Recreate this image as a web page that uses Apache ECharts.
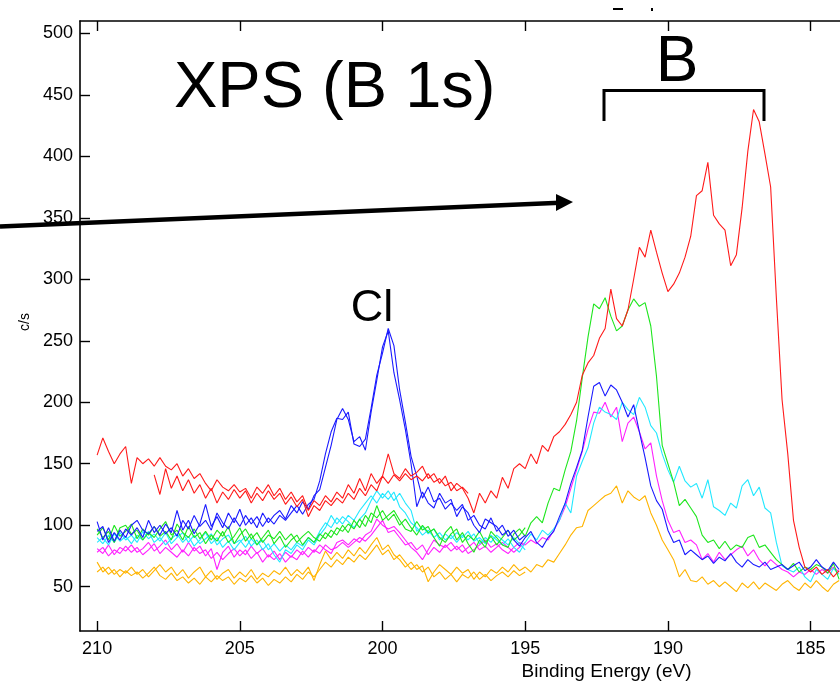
<!DOCTYPE html>
<html>
<head>
<meta charset="utf-8">
<script src="https://cdn.jsdelivr.net/npm/echarts@6/dist/echarts.min.js"></script>
<style>
html,body{margin:0;padding:0;background:#fff;}
#chart{width:840px;height:684px;}
</style>
</head>
<body>
<div id="chart"></div>
<script>
// ---------- DATA ----------
const xTicks = [210, 205, 200, 195, 190, 185];
const yTicks = [50, 100, 150, 200, 250, 300, 350, 400, 450, 500];

const energy = [
  210.0,209.8,209.6,209.4,209.2,209.0,208.8,208.6,208.4,208.2,
  208.0,207.8,207.6,207.4,207.2,207.0,206.8,206.6,206.4,206.2,
  206.0,205.8,205.6,205.4,205.2,205.0,204.8,204.6,204.4,204.2,
  204.0,203.8,203.6,203.4,203.2,203.0,202.8,202.6,202.4,202.2,
  202.0,201.8,201.6,201.4,201.2,201.0,200.8,200.6,200.4,200.2,
  200.0,199.8,199.6,199.4,199.2,199.0,198.8,198.6,198.4,198.2,
  198.0,197.8,197.6,197.4,197.2,197.0,196.8,196.6,196.4,196.2,
  196.0,195.8,195.6,195.4,195.2,195.0,194.8,194.6,194.4,194.2,
  194.0,193.8,193.6,193.4,193.2,193.0,192.8,192.6,192.4,192.2,
  192.0,191.8,191.6,191.4,191.2,191.0,190.8,190.6,190.4,190.2,
  190.0,189.8,189.6,189.4,189.2,189.0,188.8,188.6,188.4,188.2,
  188.0,187.8,187.6,187.4,187.2,187.0,186.8,186.6,186.4,186.2,
  186.0,185.8,185.6,185.4,185.2,185.0,184.8,184.6,184.4,184.2,
  184.0
];

const red = [
  157,171,160,150,158,164,134,155,150,154,
  148,155,148,145,150,140,146,138,142,134,
  128,137,131,128,133,127,130,122,131,126,
  133,124,130,121,127,119,124,112,120,116,
  124,119,127,122,133,126,138,128,142,134,
  140,158,142,138,146,140,143,148,138,142,
  134,140,128,134,130,122,110,126,118,128,
  122,139,130,146,150,146,158,150,165,160,
  172,176,182,190,200,222,232,238,252,260,
  292,268,262,275,300,326,318,340,322,305,
  290,296,305,318,335,368,372,395,352,345,
  340,311,320,358,404,438,428,402,375,285,
  202,158,104,82,66,62,66,60,64,58,
  63
];
const blue = [
  103,88,98,87,96,90,100,104,96,93,
  99,92,101,94,112,96,104,93,101,117,
  99,107,98,110,102,113,100,106,98,110,
  102,108,112,105,116,110,119,113,124,129,
  147,165,186,195,186,168,172,161,192,218,
  245,258,224,202,178,150,115,127,118,114,
  126,118,121,107,115,110,100,94,105,102,
  99,92,96,88,83,90,95,86,82,90,
  95,107,118,134,147,161,188,213,216,205,
  214,210,200,188,198,176,155,132,120,113,
  96,86,88,76,80,76,72,75,69,74,
  71,77,70,66,72,68,66,70,64,66,
  68,64,67,70,63,66,72,66,63,70,
  64
];
const green = [
  97,90,95,86,98,100,93,96,88,94,
  90,97,103,92,96,88,99,90,94,85,
  92,87,95,86,91,98,87,93,84,90,
  96,85,91,82,88,92,84,90,86,93,
  89,96,92,100,94,104,98,108,102,116,
  104,108,112,104,97,95,103,96,99,90,
  83,94,99,88,94,85,78,88,82,95,
  90,84,82,93,97,91,102,107,102,118,
  130,128,145,160,185,220,253,280,276,285,
  270,258,262,275,284,278,281,262,221,165,
  150,135,116,121,114,107,92,86,88,81,
  87,80,84,82,90,92,82,84,78,72,
  68,64,69,62,66,64,68,66,61,69,
  56
];
const cyan = [
  86,90,84,93,87,91,85,92,88,95,
  86,90,84,89,93,86,91,83,88,94,
  85,90,82,87,80,86,91,83,88,80,
  85,76,70,80,77,84,80,88,84,92,
  98,108,101,107,103,98,105,110,120,128,
  122,128,120,126,118,112,95,99,93,97,
  88,93,89,94,90,95,87,90,85,92,
  88,84,89,82,78,86,93,88,96,92,
  97,104,118,110,140,152,163,183,196,192,
  190,186,200,194,190,204,196,181,175,158,
  145,135,148,136,131,134,122,137,115,112,
  108,118,114,132,137,124,131,114,110,86,
  67,64,62,66,58,54,64,60,56,65,
  60
];
const magenta = [
  81,77,84,76,82,79,84,78,81,86,
  79,83,88,80,85,78,86,79,83,75,
  81,64,78,83,74,80,76,83,77,81,
  74,79,72,78,74,80,76,82,78,84,
  80,77,86,88,84,89,86,92,95,105,
  100,97,99,94,88,82,78,72,80,88,
  84,82,86,80,84,77,80,84,88,82,
  85,80,77,82,86,84,88,85,90,88,
  96,104,115,130,145,160,178,192,191,200,
  188,196,168,183,188,176,162,167,140,120,
  104,94,96,86,88,84,72,77,70,78,
  72,76,80,83,75,80,72,67,72,68,
  64,62,58,62,60,64,60,64,61,66,
  62
];
const yellow = [
  70,62,66,60,64,61,66,60,64,58,
  63,68,62,66,59,64,57,62,66,58,
  63,56,61,64,57,62,58,64,56,61,
  58,63,60,66,59,64,60,66,55,68,
  79,72,78,73,80,75,82,77,84,90,
  80,84,76,72,66,70,64,67,54,62,
  68,64,60,66,61,64,56,62,58,64,
  61,66,62,68,63,66,62,68,66,72,
  70,77,84,92,98,99,112,116,120,124,
  126,132,118,128,123,120,124,110,100,88,
  80,72,58,64,55,54,58,52,55,50,
  54,50,46,53,49,54,48,53,50,47,
  52,55,50,47,53,49,55,50,46,52,
  55
];

// second scans (partial ranges)
const red2Start = 208.0;
const red2 = [
  141,125,146,130,140,128,137,126,133,122,
  130,118,127,121,129,122,128,118,126,120,
  128,121,126,117,123,115,121,107,116,112,
  120,116,122,118,126,121,130,124,133,128,
  140,134,141,136,142,137,140,136,142,135,
  138,132,135,128,131,126
];
const scan2Start = 210.0;
const blue2 = [
  95,99,86,94,88,97,92,98,90,104,
  94,100,93,98,91,104,97,108,99,104,
  96,110,102,97,106,99,108,101,107,99,
  106,101,108,104,110,116,109,117,121,136,
  158,176,187,186,192,166,164,170,195,222,
  240,260,246,210,184,156,140,122,131,119,
  122,113,118,112,117,104,108,100,97,106,
  95,100,91,96,88,92
];
const green2 = [
  92,98,88,100,91,95,101,89,97,92,
  99,91,95,88,101,94,90,97,89,95,
  88,96,91,99,85,92,97,89,94,86,
  92,89,95,88,93,86,91,95,90,87,
  94,90,98,95,101,97,105,99,110,106,
  112,104,109,100,105,98,92,100,94,97,
  90,86,93,97,86,92,88,95,86,91,
  84,90,96,88,92,98
];
const cyan2 = [
  90,85,92,86,94,88,92,86,95,89,
  93,87,94,85,90,94,86,92,85,89,
  93,84,89,92,85,88,82,89,84,88,
  80,85,79,84,80,86,83,90,86,95,
  102,98,106,101,108,104,112,118,124,118,
  126,121,127,115,110,102,98,92,96,90,
  94,88,92,86,92,88,93,85,90,86,
  92,88,84,90,85,80
];
const magenta2 = [
  78,82,75,80,77,83,78,82,76,80,
  85,77,82,78,74,80,75,82,77,80,
  73,78,72,77,81,75,80,73,78,70,
  76,72,77,70,75,72,79,74,80,77,
  84,80,82,86,82,86,90,87,92,98,
  104,94,96,90,84,86,80,84,76,82,
  78,84,79,83,78,82,86,80,83,78,
  82,86,82,78,82,86
];
const yellow2 = [
  62,66,60,64,58,63,59,62,57,61,
  66,59,56,61,55,58,53,57,52,58,
  54,59,55,58,52,57,54,59,53,57,
  51,56,53,58,54,60,56,62,58,64,
  70,66,72,68,74,70,76,72,78,84,
  76,80,72,76,70,64,68,62,66,58,
  62,56,60,54,60,57,62,56,60,55,
  59,62,58,63,59,62
];

// ---------- CHART ----------
function pairs(values, start) {
  const off = energy.indexOf(start);
  return values.map((v, i) => [energy[off + i], v]);
}
const FONT = '"Liberation Sans", Arial, sans-serif';
const COLORS = {
  red: '#ff1a1a', blue: '#1a1aff', green: '#1ee61e',
  cyan: '#22e8ff', magenta: '#ff22ff', yellow: '#ffb400'
};
function line(name, values, start, color) {
  return {
    name: name, type: 'line', data: pairs(values, start),
    symbol: 'none', showSymbol: false, silent: true,
    lineStyle: { width: 1.1, color: color }, itemStyle: { color: color },
    animation: false
  };
}

const chart = echarts.init(document.getElementById('chart'), null, { renderer: 'canvas' });

const axisCommon = {
  type: 'value', inverse: true, min: 183.97, max: 210.6,
  axisLine: { show: true, onZero: false, lineStyle: { color: '#000', width: 1.6 } },
  axisTick: { show: true, inside: true, length: 10, customValues: xTicks, lineStyle: { color: '#000', width: 1.4 } },
  splitLine: { show: false }
};

chart.setOption({
  backgroundColor: '#fff',
  animation: false,
  grid: { left: 80, right: 0, top: 21, bottom: 53, containLabel: false },
  xAxis: [
    Object.assign({}, axisCommon, {
      position: 'bottom',
      axisLabel: { customValues: xTicks, fontSize: 18, color: '#000', margin: 9, fontFamily: FONT }
    }),
    Object.assign({}, axisCommon, {
      position: 'top',
      axisLabel: { show: false }
    })
  ],
  yAxis: {
    type: 'value', min: 14, max: 510,
    axisLine: { show: true, onZero: false, lineStyle: { color: '#000', width: 1.6 } },
    axisTick: { show: true, inside: true, length: 10, customValues: yTicks, lineStyle: { color: '#000', width: 1.4 } },
    axisLabel: { customValues: yTicks, fontSize: 18, color: '#000', margin: 7, fontFamily: FONT },
    splitLine: { show: false }
  },
  series: [
    line('yellow', yellow, 210.0, COLORS.yellow),
    line('yellow2', yellow2, scan2Start, COLORS.yellow),
    line('magenta', magenta, 210.0, COLORS.magenta),
    line('magenta2', magenta2, scan2Start, COLORS.magenta),
    line('cyan', cyan, 210.0, COLORS.cyan),
    line('cyan2', cyan2, scan2Start, COLORS.cyan),
    line('green', green, 210.0, COLORS.green),
    line('green2', green2, scan2Start, COLORS.green),
    line('blue', blue, 210.0, COLORS.blue),
    line('blue2', blue2, scan2Start, COLORS.blue),
    line('red', red, 210.0, COLORS.red),
    line('red2', red2, red2Start, COLORS.red)
  ],
  graphic: [
    { type: 'text', x: 174, y: 89, style: { text: 'XPS (B 1s)', font: '65px ' + FONT, fill: '#000', align: 'left', verticalAlign: 'middle' } },
    { type: 'text', x: 677, y: 63, style: { text: 'B', font: '64px ' + FONT, fill: '#000', align: 'center', verticalAlign: 'middle' } },
    { type: 'text', x: 372, y: 309, style: { text: 'Cl', font: '45px ' + FONT, fill: '#000', align: 'center', verticalAlign: 'middle' } },
    { type: 'polyline', shape: { points: [[604, 121], [604, 90.5], [764, 90.5], [764, 121]] }, style: { stroke: '#000', lineWidth: 3, fill: null } },
    { type: 'line', shape: { x1: 0, y1: 226.5, x2: 560, y2: 202.8 }, style: { stroke: '#000', lineWidth: 4.5 } },
    { type: 'polygon', shape: { points: [[556, 194], [573, 202], [556, 211]] }, style: { fill: '#000' } },
    { type: 'text', x: 606.5, y: 672, style: { text: 'Binding Energy (eV)', font: '19px ' + FONT, fill: '#000', align: 'center', verticalAlign: 'middle' } },
    { type: 'text', x: 25, y: 322, rotation: Math.PI / 2, style: { text: 'c/s', font: '14px ' + FONT, fill: '#000', align: 'center', verticalAlign: 'middle' } },
    { type: 'rect', shape: { x: 613, y: 8, width: 10, height: 2 }, style: { fill: '#000' } },
    { type: 'rect', shape: { x: 651, y: 8, width: 2, height: 3 }, style: { fill: '#000' } }
  ]
});
</script>
</body>
</html>
